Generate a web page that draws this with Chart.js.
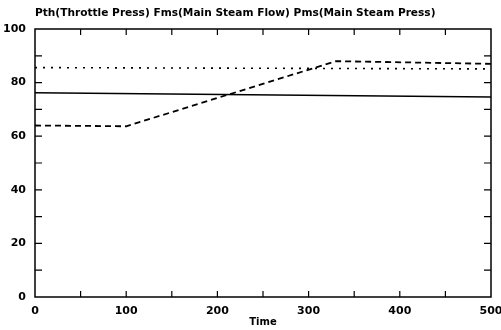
<!DOCTYPE html>
<html>
<head>
<meta charset="utf-8">
<script src="https://cdn.jsdelivr.net/npm/chart.js@4/dist/chart.umd.min.js"></script>
<style>
  html, body { margin: 0; padding: 0; background: #fff; }
  #wrap { width: 501px; height: 330px; position: relative; }
</style>
</head>
<body>
<div id="wrap"><canvas id="c"></canvas></div>
<script>
const titleText = 'Pth(Throttle Press) Fms(Main Steam Flow) Pms(Main Steam Press)';
const xTitle = 'Time';

// Pth - solid
const pthX = [0, 500];
const pthY = [76.2, 74.6];
// Fms - dashed
const fmsX = [0, 100, 330, 500];
const fmsY = [64, 63.7, 88, 87];
// Pms - dotted
const pmsX = [0, 500];
const pmsY = [85.6, 85.1];

const xTicks = [0, 100, 200, 300, 400, 500];
const yTicks = [0, 20, 40, 60, 80, 100];

const toPts = (xs, ys) => xs.map((x, i) => ({ x, y: ys[i] }));

const frame = {
  id: 'frame',
  afterDraw(chart) {
    const { ctx, chartArea: a, scales } = chart;
    ctx.save();
    ctx.strokeStyle = '#000';
    ctx.lineWidth = 1.5;
    ctx.strokeRect(a.left, a.top, a.right - a.left, a.bottom - a.top);
    ctx.lineWidth = 1.2;
    ctx.beginPath();
    for (let v = 50; v < 500; v += 50) {
      const px = scales.x.getPixelForValue(v);
      ctx.moveTo(px, a.bottom); ctx.lineTo(px, a.bottom - 6);
      ctx.moveTo(px, a.top); ctx.lineTo(px, a.top + 6);
    }
    for (let v = 10; v < 100; v += 10) {
      const py = scales.y.getPixelForValue(v);
      ctx.moveTo(a.left, py); ctx.lineTo(a.left + 7, py);
      ctx.moveTo(a.right, py); ctx.lineTo(a.right - 7, py);
    }
    ctx.stroke();
    ctx.fillStyle = '#000';
    ctx.font = 'bold 10.6px "DejaVu Sans"';
    ctx.textBaseline = 'middle';
    ctx.fillText(titleText, a.left, 13);
    ctx.restore();
  }
};

new Chart(document.getElementById('c'), {
  type: 'line',
  data: {
    datasets: [
      { label: 'Pth', data: toPts(pthX, pthY), borderColor: '#000', borderWidth: 1.6 },
      { label: 'Fms', data: toPts(fmsX, fmsY), borderColor: '#000', borderWidth: 1.8, borderDash: [6, 4] },
      { label: 'Pms', data: toPts(pmsX, pmsY), borderColor: '#000', borderWidth: 1.6, borderDash: [2, 6] }
    ]
  },
  options: {
    responsive: true,
    maintainAspectRatio: false,
    animation: false,
    layout: { padding: { top: 29, right: 10, left: 0, bottom: 0 } },
    elements: { point: { radius: 0 }, line: { tension: 0 } },
    plugins: { legend: { display: false }, tooltip: { enabled: false } },
    scales: {
      x: {
        type: 'linear', min: 0, max: 500,
        afterBuildTicks: s => { s.ticks = xTicks.map(v => ({ value: v })); },
        afterFit: s => { s.height = 33; s.paddingLeft = 0; s.paddingRight = 0; },
        grid: { display: false, drawTicks: false },
        border: { display: false },
        ticks: { color: '#000', font: { family: 'DejaVu Sans', weight: 'bold', size: 11 }, padding: 8, maxRotation: 0 },
        title: { display: true, text: xTitle, color: '#000', font: { family: 'DejaVu Sans', weight: 'bold', size: 10 }, padding: { top: 0, bottom: 2 } }
      },
      y: {
        min: 0, max: 100,
        afterBuildTicks: s => { s.ticks = yTicks.map(v => ({ value: v })); },
        afterFit: s => { s.width = 35; s.paddingTop = 0; s.paddingBottom = 0; },
        grid: { display: false, drawTicks: false },
        border: { display: false },
        ticks: { color: '#000', font: { family: 'DejaVu Sans', weight: 'bold', size: 11 }, padding: 9 }
      }
    }
  },
  plugins: [frame]
});
</script>
</body>
</html>
